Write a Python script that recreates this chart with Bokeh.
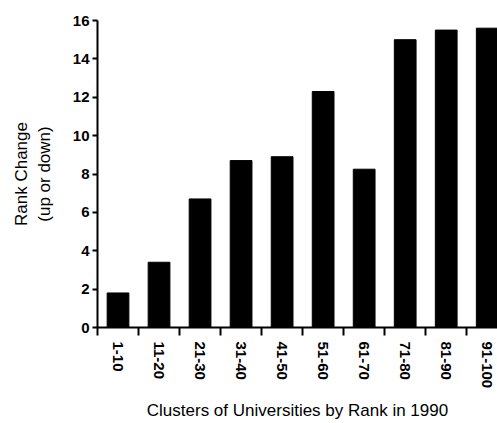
from bokeh.plotting import figure
from bokeh.models import Range1d, FixedTicker
from bokeh.embed import file_html
from bokeh.resources import INLINE

categories = ["1-10", "11-20", "21-30", "31-40", "41-50",
              "51-60", "61-70", "71-80", "81-90", "91-100"]
rank_change = [1.8, 3.4, 6.7, 8.7, 8.9, 12.3, 8.25, 15.0, 15.5, 15.6]
y_ticks = [0, 2, 4, 6, 8, 10, 12, 14, 16]

n = len(categories)
centers = [i + 0.5 for i in range(n)]
bounds = [float(i) for i in range(n + 1)]

FONT = "Liberation Sans"

p = figure(width=497, height=423, output_backend="svg", toolbar_location=None,
           x_range=Range1d(0, 9.75), y_range=Range1d(0, 16),
           min_border_left=97, min_border_right=0, min_border_top=20,
           min_border_bottom=96)
p.outline_line_color = None
p.xgrid.grid_line_color = None
p.ygrid.grid_line_color = None
p.background_fill_color = "white"
p.border_fill_color = "white"

p.vbar(x=centers, top=rank_change, width=0.53, bottom=0,
       fill_color="black", line_color="black")

# x axis
xa = p.xaxis[0]
xa.ticker = FixedTicker(ticks=centers, minor_ticks=bounds)
xa.major_label_overrides = {c: lab for c, lab in zip(centers, categories)}
xa.major_label_orientation = "vertical"
xa.major_tick_line_color = None
xa.major_tick_in = 0
xa.major_tick_out = 6
xa.minor_tick_line_color = "black"
xa.minor_tick_line_width = 2
xa.minor_tick_in = 0
xa.minor_tick_out = 8
xa.major_label_standoff = 6
xa.major_label_text_font = FONT
xa.major_label_text_font_size = "15px"
xa.major_label_text_font_style = "bold"
xa.major_label_text_color = "black"
xa.axis_line_color = "black"
xa.axis_line_width = 2
xa.axis_label = "Clusters of Universities by Rank in 1990"
xa.axis_label_text_font = FONT
xa.axis_label_text_font_size = "17px"
xa.axis_label_text_font_style = "normal"
xa.axis_label_text_color = "black"
xa.axis_label_standoff = 10

# y axis
ya = p.yaxis[0]
ya.ticker = FixedTicker(ticks=y_ticks)
ya.minor_tick_line_color = None
ya.major_tick_in = 0
ya.major_tick_out = 5
ya.major_tick_line_width = 2
ya.major_tick_line_color = "black"
ya.major_label_standoff = 3
ya.major_label_text_font = FONT
ya.major_label_text_font_size = "15px"
ya.major_label_text_font_style = "bold"
ya.major_label_text_color = "black"
ya.axis_line_color = "black"
ya.axis_line_width = 2
ya.axis_label = "Rank Change\n(up or down)"
ya.axis_label_text_font = FONT
ya.axis_label_text_font_size = "17px"
ya.axis_label_text_font_style = "normal"
ya.axis_label_text_color = "black"
ya.axis_label_standoff = 16

open("out.html", "w").write(file_html(p, INLINE))
